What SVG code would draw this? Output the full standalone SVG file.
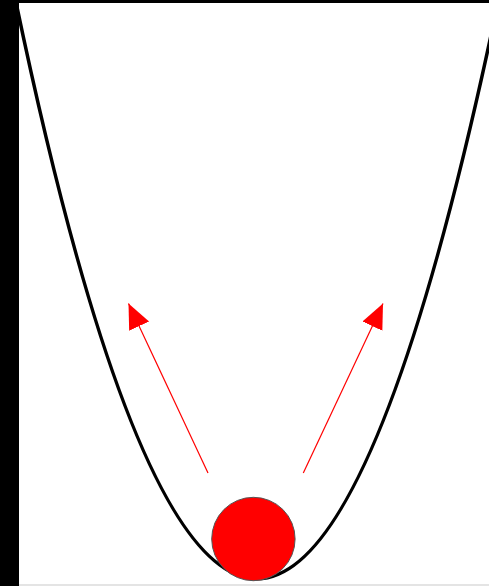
<svg xmlns="http://www.w3.org/2000/svg" width="489" height="586" viewBox="0 0 489 586">
  <style>
    .curve { fill: none; stroke: #000; stroke-width: 3.5; }
    .arrow { stroke: #ff0000; stroke-width: 1.2; fill: none; }
    .ball { fill: #ff0000; stroke: #555; stroke-width: 1; }
  </style>
  <defs>
    <marker id="head" markerUnits="userSpaceOnUse" markerWidth="26" markerHeight="23" refX="25" refY="11" orient="auto">
      <path d="M0,0 L25,11 L0,22 z" fill="#ff0000"/>
    </marker>
  </defs>
  <rect x="0" y="0" width="489" height="586" fill="#fff"/>
  <g id="frame">
    <rect x="0" y="0" width="19" height="586" fill="#000"/>
    <rect x="0" y="0" width="489" height="3" fill="#000"/>
    <rect x="19" y="584" width="470" height="2" fill="#e4e4e4"/>
  </g>
  <g id="valley">
    <path class="curve" d="M7,-41.5 Q257,1199.1 507,-41.5"/>
  </g>
  <g id="ball">
    <circle class="ball" cx="253.4" cy="539" r="41.7"/>
  </g>
  <g id="connectors">
    <line class="arrow" x1="208" y1="473" x2="128.5" y2="303.5" marker-end="url(#head)"/>
    <line class="arrow" x1="303.3" y1="473" x2="383" y2="303.5" marker-end="url(#head)"/>
  </g>
</svg>
